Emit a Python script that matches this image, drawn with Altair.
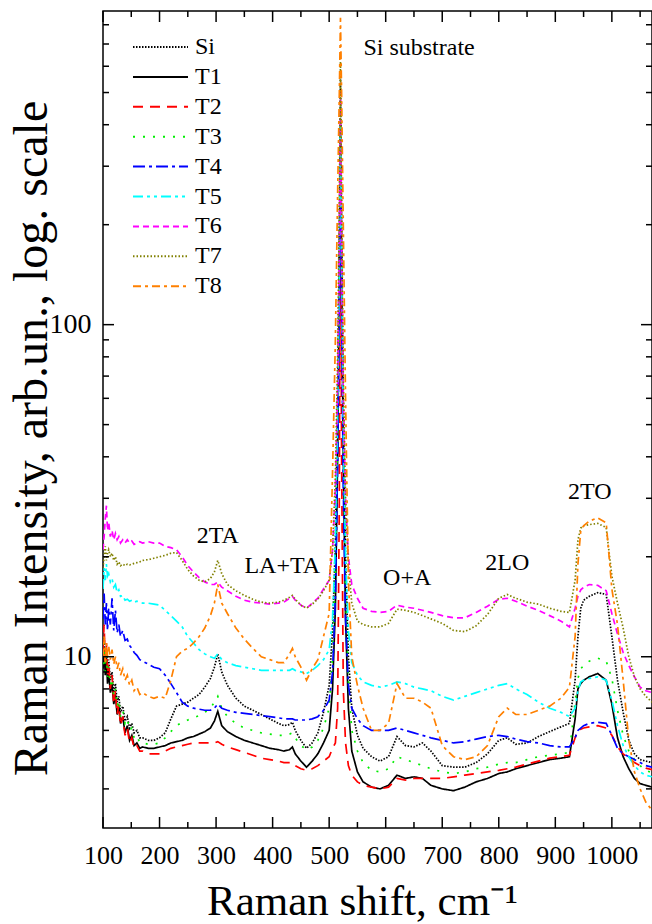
import altair as alt
import pandas as pd

# ---------------- data ----------------
shift = [100,102,104,106,108,110,113,116,119,122,125,128,131,135,139,143,147,151,155,160,165,170,180,190,
         200,210,220,230,240,250,260,270,280,290,
         297,303,310,320,335,350,365,380,395,410,
         420,430,435,440,450,460,470,480,490,500,
         506,511,515,518,520,522,525,529,534,540,
         550,560,575,590,
         605,620,635,650,665,680,700,720,740,760,
         780,800,815,830,850,870,890,910,925,935,
         940,945,950,960,975,990,1000,1010,1020,1030,
         1040,1050,1060,1071]

si = [10,11.5,9.5,10.5,9,9.8,8.5,9,7.8,8.3,7.3,7.6,6.8,7.1,6.4,6.6,6.1,6.3,5.9,6.0,5.7,5.7,5.6,5.6,
      5.7,5.9,6.5,7.1,7.2,7.3,7.5,7.7,8.1,8.6,
      9.3,10.2,9.0,8.2,7.5,7.1,6.9,6.7,6.5,6.3,
      6.2,6.25,6.35,6.0,5.6,5.3,5.5,5.9,6.8,8.2,
      12,22,60,180,550,190,55,20,10,7,
      5.8,5.3,5.0,4.85,
      5.0,5.75,5.4,5.35,5.5,5.2,4.7,4.65,4.65,4.8,
      5.1,5.6,5.7,5.45,5.5,5.75,5.95,6.15,6.3,8.5,
      11.5,14,14.8,15.2,15.6,15.4,11.5,8.5,6.8,5.6,
      5.1,4.9,4.85,4.8]

t1 = [9.2,10.5,8.8,10,8.3,9,7.8,8.3,7.2,7.7,6.7,7.1,6.3,6.6,5.9,6.2,5.6,5.8,5.4,5.5,5.3,5.35,5.3,5.3,
      5.35,5.4,5.5,5.55,5.6,5.7,5.75,5.85,5.95,6.1,
      6.4,6.85,6.2,5.95,5.75,5.6,5.5,5.4,5.3,5.25,
      5.2,5.25,5.35,5.1,4.85,4.65,4.85,5.1,5.5,6.0,
      8,14,40,130,400,140,40,13,7,5.2,
      4.5,4.2,4.05,4.0,
      4.1,4.4,4.3,4.35,4.3,4.1,4.0,3.95,4.05,4.2,
      4.3,4.45,4.5,4.6,4.7,4.8,4.9,4.95,5.0,6.5,
      8.0,8.3,8.5,8.7,8.9,8.5,7.2,5.7,5.0,4.6,
      4.3,4.15,4.1,4.05]

t2 = [10.5,12.5,9.5,11,8.8,9.6,8,8.8,7.2,7.9,6.7,7.2,6.2,6.6,5.8,6.1,5.5,5.7,5.3,5.4,5.2,5.2,5.1,5.1,
      5.1,5.2,5.3,5.35,5.4,5.45,5.5,5.5,5.5,5.5,
      5.5,5.55,5.45,5.35,5.25,5.15,5.05,4.95,4.9,4.85,
      4.8,4.8,4.8,4.7,4.6,4.55,4.6,4.7,4.85,5.0,
      5.3,5.5,7,30,250,40,8,5.5,4.7,4.4,
      4.2,4.1,4.05,4.0,
      4.05,4.3,4.25,4.3,4.3,4.3,4.3,4.35,4.4,4.45,
      4.5,4.55,4.6,4.65,4.75,4.85,4.95,5.0,5.05,5.7,
      6.0,6.05,6.1,6.15,6.2,6.1,5.8,5.35,5.1,4.95,
      4.8,4.7,4.62,4.57]

t3 = [9.5,11,9,10.2,8.7,9.3,8.2,8.6,7.6,8,7.1,7.4,6.6,6.9,6.3,6.5,6.0,6.1,5.7,5.8,5.5,5.5,5.45,5.45,
      5.5,5.7,5.95,6.2,6.35,6.45,6.55,6.65,6.8,7.0,
      7.3,7.6,7.0,6.6,6.3,6.1,6.0,5.9,5.85,5.8,
      5.8,5.85,5.9,5.7,5.4,5.25,5.35,5.6,6.1,7.0,
      10,18,50,140,380,150,45,16,8.5,6,
      5.2,4.8,4.55,4.5,
      4.6,5.0,4.9,4.8,4.7,4.6,4.5,4.45,4.5,4.6,
      4.65,4.75,4.8,4.8,4.9,5.0,5.05,5.1,5.15,7.3,
      8.6,9.2,9.4,9.7,9.9,9.7,8.6,6.9,5.8,5.2,
      4.9,4.7,4.55,4.47]

t4 = [13,15.5,12.5,14.5,12,14,12.5,15,12,13.8,11.8,12.5,11.5,12,11.2,11.3,10.8,10.6,10.3,10.1,9.8,9.7,9.5,9.3,
      9.2,8.8,8.3,7.8,7.3,7.1,7.0,6.95,6.9,6.9,
      7.0,7.2,7.0,6.9,6.8,6.75,6.7,6.65,6.6,6.55,
      6.5,6.5,6.5,6.45,6.45,6.45,6.5,6.6,6.9,7.4,
      9,15,38,110,300,110,32,13,8.2,7.0,
      6.5,6.2,6.0,6.0,
      6.0,6.1,6.0,5.9,5.8,5.7,5.6,5.5,5.55,5.65,
      5.75,5.8,5.75,5.65,5.55,5.5,5.4,5.35,5.35,5.7,
      6.0,6.1,6.2,6.3,6.35,6.3,5.8,5.3,5.1,5.0,
      4.9,4.8,4.7,4.65]

t5 = [16,18.5,17,19,17.5,17.8,16.8,17.2,16.2,16.5,15.6,15.9,15.2,15.3,14.8,14.9,14.7,14.8,14.6,14.7,14.6,14.5,14.5,14.4,
      14.3,13.8,13.3,12.8,12.3,11.5,11.0,10.5,10.2,10.0,
      9.9,10.2,9.8,9.6,9.4,9.3,9.2,9.1,9.1,9.1,
      9.1,9.1,9.2,9.1,9.0,8.9,9.1,9.4,9.8,10.5,
      13,22,55,150,450,160,50,20,12,9.6,
      8.8,8.4,8.2,8.1,
      8.2,8.4,8.3,8.1,8.0,7.9,7.6,7.4,7.6,7.8,
      8.0,8.2,8.3,8.0,7.7,7.3,7.0,6.8,6.6,7.0,
      7.9,8.4,8.5,8.6,8.7,8.5,7.4,6.2,5.4,5.0,
      4.7,4.5,4.4,4.35]

t6 = [21,23,26,28.5,24,25.5,23,24,22.5,23.5,22.5,23,22,22.5,22,22.5,22,22.3,21.8,22,22.2,22,22.2,22,
      22,21.5,21.3,21,20,18.8,18,17.3,16.8,16.5,
      16.5,16.8,16.2,15.8,15.2,14.8,14.6,14.5,14.4,14.5,
      14.6,15,15.2,14.8,14.3,14.0,14.5,15.0,16,17,
      21,32,65,170,500,180,60,30,20,16.5,
      15,14,13.7,13.6,
      13.7,14.3,14.1,14.0,13.8,13.6,13.3,13.1,13.1,13.6,
      14.2,14.9,15.0,14.7,14.2,13.8,13.3,12.8,12.3,14.0,
      15.2,15.9,16.2,16.5,16.4,15.8,13.5,11.7,10.3,9.4,
      8.7,8.1,7.9,7.8]

t7 = [18.5,20,21.5,19.5,20.5,21,20,20.5,19.5,20,19,19.3,18.8,19,18.8,19,18.9,19,19.1,19.2,19.3,19.5,19.6,19.8,
      20,20.2,20.5,20.6,19.5,18.3,17.5,17,16.8,17.2,
      18,19.5,17.8,16.5,15.8,15.3,14.9,14.6,14.5,14.6,
      14.8,15.1,15.3,14.9,14.3,14.0,14.4,14.9,15.8,17.0,
      21,35,80,220,620,230,70,30,19,14.5,
      12.8,12.5,12.3,12.3,
      12.6,13.9,13.8,13.6,13.3,13.0,12.6,12.0,11.9,12.4,
      13.4,15.0,15.4,15.0,14.6,14.4,14.0,13.7,13.6,17,
      22.5,24.4,24.8,25,25.2,24.5,17.5,14.5,12.2,10.0,
      8.7,8.0,7.6,7.3]

t8 = [10,11.5,9.5,11,10,10.8,9.8,10.5,9.5,10,9.2,9.6,8.8,9.2,8.5,8.8,8.2,8.5,7.9,8.1,7.7,7.8,7.6,7.5,
      7.6,7.5,8.5,10.0,10.4,10.6,11.0,11.5,12.2,13.3,
      14.5,16.5,14.5,13.5,12.2,11.3,10.6,10.0,9.8,9.6,
      9.6,10.2,10.6,10.0,9.3,8.5,9.2,9.8,11.5,13.5,
      36,90,250,500,840,500,200,60,17,10,
      8.2,7.0,6.0,6.0,
      6.3,8.3,7.5,7.5,7.3,7.0,5.4,5.0,4.9,5.0,
      5.4,6.6,7.0,6.7,6.7,6.9,7.1,7.5,8.1,11.5,
      19,24,24.8,25.6,26.2,25.3,16,12.5,8.5,5.6,
      4.5,4.0,3.65,3.45]

series_names = ["Si", "T1", "T2", "T3", "T4", "T5", "T6", "T7", "T8"]
series_values = [si, t1, t2, t3, t4, t5, t6, t7, t8]
series_colors = ["#000000", "#000000", "#ff0000", "#00ee00", "#0000ff",
                 "#00ffff", "#ff00ff", "#808000", "#ff8000"]
series_dashes = [[1.5, 1.5], [1, 0], [10, 7], [2, 8], [12, 4, 3, 4],
                 [10, 4, 3, 4, 3, 4], [6, 4], [1.5, 2], [8, 4, 3, 4]]

ann_labels = ["Si substrate", "2TA", "LA+TA", "O+A", "2LO", "2TO"]
ann_x = [659, 303, 417, 638, 815, 961]
ann_y = [682, 23.1, 18.8, 17.3, 19.2, 31.4]

x_major_ticks = list(range(100, 1001, 100))
x_minor_ticks = list(range(150, 1051, 100))
y_major_ticks = [10, 100]
y_minor_ticks = [4, 5, 6, 7, 8, 9, 20, 30, 40, 50, 60, 70, 80, 90,
                 200, 300, 400, 500, 600, 700, 800]

for v in series_values:
    assert len(v) == len(shift), len(v)

rows = []
for name, vals in zip(series_names, series_values):
    for xv, yv in zip(shift, vals):
        rows.append({"shift": xv, "intensity": yv, "sample": name})
df = pd.DataFrame(rows)
ann_df = pd.DataFrame({"label": ann_labels, "ax": ann_x, "ay": ann_y})

# ---------------- chart ----------------
FONT = "Liberation Serif"
W, H = 549, 817
MAJOR, MINOR = 11, 6
xscale = alt.Scale(domain=[100, 1071], nice=False, zero=False)
yscale = alt.Scale(type="log", domain=[3.05, 880], nice=False)

x_axis = alt.Axis(values=x_major_ticks, format="d", ticks=False, tickSize=0, domain=False,
                  grid=False, labelFont=FONT, labelFontSize=26, labelColor="black",
                  labelPadding=14, labelFlush=False, labelOverlap=False,
                  title="Raman shift, cm\u207b\u00b9", titleFont=FONT, titleFontSize=43,
                  titleFontWeight="normal", titleColor="black",
                  titleX=259, titleY=86, titleBaseline="alphabetic", titleAlign="center")
y_axis = alt.Axis(values=y_major_ticks, format="d", ticks=False, tickSize=0, domain=False,
                  grid=False, labelFont=FONT, labelFontSize=28, labelColor="black",
                  labelPadding=12, labelFlush=False, labelOverlap=False,
                  title="Raman Intensity, arb.un., log. scale", titleFont=FONT,
                  titleFontSize=48, titleFontWeight="normal", titleColor="black",
                  titleX=-57, titleY=427, titleAngle=270,
                  titleBaseline="alphabetic", titleAlign="center")

legend = alt.Legend(title=None, orient="none", legendX=29, legendY=25,
                    symbolType="stroke", symbolSize=3025, symbolStrokeWidth=2,
                    labelFont=FONT, labelFontSize=24, labelColor="black",
                    labelOffset=6, rowPadding=5.9, clipHeight=22, padding=0)

lines = alt.Chart(df).mark_line(strokeWidth=1.7, clip=True).encode(
    x=alt.X("shift:Q", scale=xscale, axis=x_axis),
    y=alt.Y("intensity:Q", scale=yscale, axis=y_axis),
    color=alt.Color("sample:N", scale=alt.Scale(domain=series_names, range=series_colors),
                    legend=legend),
    strokeDash=alt.StrokeDash("sample:N", scale=alt.Scale(domain=series_names, range=series_dashes),
                              legend=legend),
)

labels = alt.Chart(ann_df).mark_text(font=FONT, fontSize=24, color="black",
                                     align="center", baseline="middle").encode(
    x=alt.X("ax:Q", scale=xscale, axis=x_axis),
    y=alt.Y("ay:Q", scale=yscale, axis=y_axis),
    text="label:N",
)


def x_ticks_layer(vals, length):
    base = alt.Chart(pd.DataFrame({"t": vals})).mark_rule(color="black", strokeWidth=1.5)
    enc_x = alt.X("t:Q", scale=xscale, axis=x_axis)
    bottom = base.encode(x=enc_x, y=alt.value(H), y2=alt.value(H - length))
    top = base.encode(x=enc_x, y=alt.value(0), y2=alt.value(length))
    return [bottom, top]


def y_ticks_layer(vals, length):
    base = alt.Chart(pd.DataFrame({"t": vals})).mark_rule(color="black", strokeWidth=1.5)
    enc_y = alt.Y("t:Q", scale=yscale, axis=y_axis)
    left = base.encode(y=enc_y, x=alt.value(0), x2=alt.value(length))
    right = base.encode(y=enc_y, x=alt.value(W), x2=alt.value(W - length))
    return [left, right]


tick_layers = (x_ticks_layer(x_major_ticks, MAJOR) + x_ticks_layer(x_minor_ticks, MINOR)
               + y_ticks_layer(y_major_ticks, MAJOR) + y_ticks_layer(y_minor_ticks, MINOR))

chart = alt.layer(lines, labels, *tick_layers).properties(
    width=W, height=H,
    padding={"left": 103, "top": 11, "right": 0, "bottom": 96},
    autosize=alt.AutoSizeParams(type="none"),
    background="white",
).configure_view(stroke="black", strokeWidth=1.5)

chart.save("out.html", embed_options={"renderer": "svg", "actions": False})
